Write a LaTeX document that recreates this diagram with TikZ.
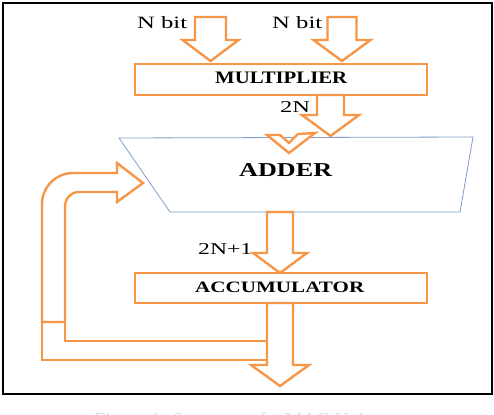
\documentclass[tikz,border=0pt]{standalone}
\usepackage{fontspec}
\setmainfont{Liberation Serif}
\usepackage{graphicx}
\definecolor{macorange}{HTML}{F79646}
\definecolor{adderblue}{HTML}{7F9FCC}
\tikzset{
  blk/.style={draw=macorange, line width=2.4pt, fill=white, line join=miter},
  boxstyle/.style={draw=macorange, line width=2.4pt, fill=white},
  lbl/.style={inner sep=0pt, anchor=base west, text=black},
}
% name, cx, ytop, ybase, ytip, shaft half width, head half width
\newcommand\dnarrow[7]{%
  \coordinate (#1-tip) at (#2,#5);
  \draw[blk] (#2-#6,#3) -- (#2-#6,#4) -- (#2-#7,#4) -- (#1-tip) -- (#2+#7,#4)
     -- (#2+#6,#4) -- (#2+#6,#3) -- cycle;}
\begin{document}
\begin{tikzpicture}[x=1pt,y=-1pt]
\useasboundingbox (0,0) rectangle (494,414);
\clip (0,0) rectangle (494,414);
\fill[white] (0,0) rectangle (494,414);

% boxes
\node[boxstyle, minimum width=292pt, minimum height=31pt, inner sep=0pt] (mult) at (281,79.5) {};
\node[boxstyle, minimum width=292pt, minimum height=30pt, inner sep=0pt] (acc) at (281,288) {};

% adder trapezoid
\coordinate (adtl) at (119,138);
\coordinate (adtr) at (473,137);
\coordinate (adbr) at (460,212);
\coordinate (adbl) at (170,212);
\draw[adderblue, line width=0.8pt, fill=white] (adtl) -- (adtr) -- (adbr) -- (adbl) -- cycle;
\node[lbl] (addertxt) at (239,176) {\resizebox{93pt}{13pt}{\bfseries ADDER}};

% input arrows
\dnarrow{ina}{210.5}{17}{40}{61}{15.5}{28}
\dnarrow{inb}{342}{17}{40}{61}{14.5}{28.5}
% multiplier -> adder
\dnarrow{mout}{330.5}{95}{115}{136}{13.5}{28.5}
% small hollow head at adder top
\draw[blk] (267,135) -- (280,135) -- (289,143) -- (298,134) -- (315,133) -- (289,153) -- cycle;
% adder -> accumulator
\dnarrow{aout}{280}{212}{253}{273}{13}{27}

% feedback path
\draw[blk] (42,322) -- (42,204) .. controls (42,187) and (56,173) .. (73,173)
  -- (117,173) -- (117,163) -- (143,183) -- (117,202) -- (117,192) -- (79,192)
  .. controls (71,192) and (65,198) .. (65,207) -- (65,322) -- cycle;
\draw[blk, fill=none] (42,322) -- (42,360) -- (267,360) -- (267,341) -- (65,341) -- (65,322);

% accumulator output
\dnarrow{accout}{280}{303}{365}{386}{13}{29}

% labels
\node[lbl] (nbita) at (137,29) {\resizebox{50pt}{12pt}{N bit}};
\node[lbl] (nbitb) at (272,29) {\resizebox{50pt}{12pt}{N bit}};
\node[lbl] (multtxt) at (215,84) {\resizebox{132pt}{11.5pt}{\bfseries MULTIPLIER}};
\node[lbl] (lbltwon) at (280,113) {\resizebox{30pt}{11pt}{2N}};
\node[lbl] (lbltwonone) at (198,254) {\resizebox{54pt}{11pt}{2N+1}};
\node[lbl] (acctxt) at (195,292) {\resizebox{169pt}{10.5pt}{\bfseries ACCUMULATOR}};

% frame
\draw[black, line width=2pt] (3,3) rectangle (492,394);

% caption (cut off at the bottom, as in the source)
\node[inner sep=0pt, anchor=base, text=black!14] (cap) at (232,426)
  {\resizebox{275pt}{!}{Figure 1: Structure of a MAC Unit}};
\end{tikzpicture}
\end{document}
